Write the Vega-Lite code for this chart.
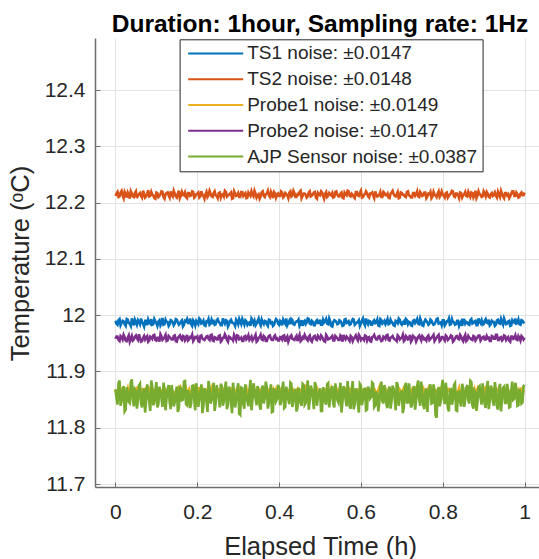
{
  "$schema": "https://vega.github.io/schema/vega-lite/v6.json",
  "autosize": "none",
  "width": 450,
  "height": 449,
  "padding": {"left": 95, "top": 38, "right": 0, "bottom": 72},
  "background": "white",
  "title": {"text": "Duration: 1hour, Sampling rate: 1Hz", "font": "Liberation Sans", "fontSize": 24.5, "fontWeight": "bold", "color": "#000000", "anchor": "middle", "offset": 1},
  "config": {
    "view": {"stroke": null},
    "axis": {"labelFont": "Liberation Sans", "titleFont": "Liberation Sans", "labelColor": "#262626", "titleColor": "#262626", "labelFontSize": 21, "titleFontSize": 25.5, "titleFontWeight": "normal", "gridColor": "#e3e3e3", "gridWidth": 1, "domainColor": "#6e6e6e", "domainWidth": 1.5, "tickColor": "#6e6e6e", "tickSize": -5, "tickWidth": 1}
  },
  "data": {"values": [
{"t":0,"a":11.990,"b":12.212,"c":11.868,"d":11.958,"e":11.868},
{"t":0.005,"a":11.983,"b":12.219,"c":11.858,"d":11.962,"e":11.841},
{"t":0.01,"a":11.993,"b":12.211,"c":11.866,"d":11.954,"e":11.884},
{"t":0.015,"a":11.986,"b":12.221,"c":11.856,"d":11.961,"e":11.847},
{"t":0.02,"a":11.989,"b":12.208,"c":11.869,"d":11.965,"e":11.874},
{"t":0.025,"a":11.981,"b":12.215,"c":11.861,"d":11.955,"e":11.832},
{"t":0.03,"a":11.992,"b":12.218,"c":11.871,"d":11.960,"e":11.862},
{"t":0.035,"a":11.985,"b":12.207,"c":11.863,"d":11.953,"e":11.844},
{"t":0.04,"a":11.994,"b":12.216,"c":11.867,"d":11.963,"e":11.886},
{"t":0.045,"a":11.982,"b":12.210,"c":11.859,"d":11.957,"e":11.838},
{"t":0.05,"a":11.988,"b":12.220,"c":11.870,"d":11.964,"e":11.865},
{"t":0.055,"a":11.991,"b":12.213,"c":11.862,"d":11.956,"e":11.851},
{"t":0.06,"a":11.984,"b":12.217,"c":11.857,"d":11.959,"e":11.878},
{"t":0.065,"a":11.987,"b":12.209,"c":11.868,"d":11.954,"e":11.836},
{"t":0.07,"a":11.980,"b":12.216,"c":11.865,"d":11.963,"e":11.870},
{"t":0.075,"a":11.990,"b":12.211,"c":11.859,"d":11.961,"e":11.848},
{"t":0.08,"a":11.992,"b":12.222,"c":11.872,"d":11.953,"e":11.859},
{"t":0.085,"a":11.985,"b":12.212,"c":11.861,"d":11.962,"e":11.830},
{"t":0.09,"a":11.983,"b":12.214,"c":11.866,"d":11.958,"e":11.872},
{"t":0.095,"a":11.993,"b":12.208,"c":11.858,"d":11.965,"e":11.845},
{"t":0.1,"a":11.986,"b":12.218,"c":11.869,"d":11.955,"e":11.881},
{"t":0.105,"a":11.989,"b":12.210,"c":11.863,"d":11.960,"e":11.842},
{"t":0.11,"a":11.982,"b":12.215,"c":11.867,"d":11.966,"e":11.863},
{"t":0.115,"a":11.995,"b":12.219,"c":11.857,"d":11.956,"e":11.837},
{"t":0.12,"a":11.984,"b":12.207,"c":11.870,"d":11.961,"e":11.867},
{"t":0.125,"a":11.988,"b":12.217,"c":11.860,"d":11.954,"e":11.853},
{"t":0.13,"a":11.981,"b":12.213,"c":11.864,"d":11.963,"e":11.876},
{"t":0.135,"a":11.991,"b":12.220,"c":11.873,"d":11.959,"e":11.833},
{"t":0.14,"a":11.987,"b":12.211,"c":11.862,"d":11.957,"e":11.861},
{"t":0.145,"a":11.985,"b":12.216,"c":11.859,"d":11.964,"e":11.846},
{"t":0.15,"a":11.992,"b":12.209,"c":11.867,"d":11.953,"e":11.873},
{"t":0.155,"a":11.983,"b":12.221,"c":11.858,"d":11.962,"e":11.835},
{"t":0.16,"a":11.989,"b":12.212,"c":11.871,"d":11.958,"e":11.869},
{"t":0.165,"a":11.980,"b":12.214,"c":11.862,"d":11.963,"e":11.850},
{"t":0.17,"a":11.990,"b":12.218,"c":11.865,"d":11.955,"e":11.883},
{"t":0.175,"a":11.993,"b":12.208,"c":11.856,"d":11.965,"e":11.840},
{"t":0.18,"a":11.986,"b":12.217,"c":11.868,"d":11.957,"e":11.858},
{"t":0.185,"a":11.984,"b":12.213,"c":11.861,"d":11.960,"e":11.843},
{"t":0.19,"a":11.991,"b":12.219,"c":11.870,"d":11.954,"e":11.875},
{"t":0.195,"a":11.982,"b":12.211,"c":11.864,"d":11.961,"e":11.831},
{"t":0.2,"a":11.987,"b":12.216,"c":11.860,"d":11.962,"e":11.864},
{"t":0.205,"a":11.994,"b":12.209,"c":11.872,"d":11.953,"e":11.852},
{"t":0.21,"a":11.985,"b":12.220,"c":11.863,"d":11.964,"e":11.877},
{"t":0.215,"a":11.990,"b":12.212,"c":11.866,"d":11.957,"e":11.839},
{"t":0.22,"a":11.981,"b":12.215,"c":11.858,"d":11.959,"e":11.866},
{"t":0.225,"a":11.988,"b":12.210,"c":11.869,"d":11.963,"e":11.828},
{"t":0.23,"a":11.983,"b":12.221,"c":11.861,"d":11.956,"e":11.871},
{"t":0.235,"a":11.992,"b":12.211,"c":11.871,"d":11.965,"e":11.849},
{"t":0.24,"a":11.989,"b":12.217,"c":11.859,"d":11.954,"e":11.880},
{"t":0.245,"a":11.984,"b":12.213,"c":11.865,"d":11.960,"e":11.844},
{"t":0.25,"a":11.993,"b":12.208,"c":11.867,"d":11.957,"e":11.860},
{"t":0.255,"a":11.986,"b":12.218,"c":11.857,"d":11.964,"e":11.836},
{"t":0.26,"a":11.982,"b":12.214,"c":11.870,"d":11.955,"e":11.874},
{"t":0.265,"a":11.989,"b":12.211,"c":11.862,"d":11.960,"e":11.847},
{"t":0.27,"a":11.991,"b":12.219,"c":11.868,"d":11.962,"e":11.882},
{"t":0.275,"a":11.980,"b":12.213,"c":11.859,"d":11.953,"e":11.841},
{"t":0.28,"a":11.990,"b":12.216,"c":11.864,"d":11.961,"e":11.867},
{"t":0.285,"a":11.987,"b":12.207,"c":11.872,"d":11.958,"e":11.826},
{"t":0.29,"a":11.985,"b":12.220,"c":11.860,"d":11.965,"e":11.862},
{"t":0.295,"a":11.992,"b":12.212,"c":11.866,"d":11.956,"e":11.848},
{"t":0.3,"a":11.984,"b":12.217,"c":11.858,"d":11.963,"e":11.879},
{"t":0.305,"a":11.988,"b":12.210,"c":11.869,"d":11.958,"e":11.823},
{"t":0.31,"a":11.993,"b":12.219,"c":11.865,"d":11.954,"e":11.870},
{"t":0.315,"a":11.983,"b":12.215,"c":11.861,"d":11.962,"e":11.834},
{"t":0.32,"a":11.989,"b":12.208,"c":11.871,"d":11.957,"e":11.858},
{"t":0.325,"a":11.986,"b":12.218,"c":11.863,"d":11.964,"e":11.838},
{"t":0.33,"a":11.981,"b":12.212,"c":11.859,"d":11.959,"e":11.885},
{"t":0.335,"a":11.991,"b":12.214,"c":11.868,"d":11.955,"e":11.850},
{"t":0.34,"a":11.990,"b":12.221,"c":11.866,"d":11.961,"e":11.868},
{"t":0.345,"a":11.985,"b":12.209,"c":11.857,"d":11.953,"e":11.840},
{"t":0.35,"a":11.994,"b":12.215,"c":11.870,"d":11.960,"e":11.863},
{"t":0.355,"a":11.982,"b":12.211,"c":11.861,"d":11.965,"e":11.832},
{"t":0.36,"a":11.987,"b":12.220,"c":11.873,"d":11.956,"e":11.875},
{"t":0.365,"a":11.990,"b":12.210,"c":11.860,"d":11.961,"e":11.853},
{"t":0.37,"a":11.984,"b":12.216,"c":11.864,"d":11.954,"e":11.871},
{"t":0.375,"a":11.992,"b":12.213,"c":11.858,"d":11.963,"e":11.843},
{"t":0.38,"a":11.986,"b":12.219,"c":11.867,"d":11.958,"e":11.877},
{"t":0.385,"a":11.981,"b":12.208,"c":11.869,"d":11.956,"e":11.829},
{"t":0.39,"a":11.989,"b":12.217,"c":11.862,"d":11.964,"e":11.865},
{"t":0.395,"a":11.991,"b":12.214,"c":11.860,"d":11.959,"e":11.851},
{"t":0.4,"a":11.983,"b":12.212,"c":11.871,"d":11.955,"e":11.872},
{"t":0.405,"a":11.988,"b":12.220,"c":11.863,"d":11.961,"e":11.846},
{"t":0.41,"a":11.992,"b":12.209,"c":11.866,"d":11.963,"e":11.882},
{"t":0.415,"a":11.985,"b":12.217,"c":11.859,"d":11.953,"e":11.837},
{"t":0.42,"a":11.982,"b":12.213,"c":11.868,"d":11.962,"e":11.860},
{"t":0.425,"a":11.990,"b":12.218,"c":11.856,"d":11.958,"e":11.842},
{"t":0.43,"a":11.993,"b":12.211,"c":11.870,"d":11.964,"e":11.878},
{"t":0.435,"a":11.984,"b":12.221,"c":11.864,"d":11.957,"e":11.848},
{"t":0.44,"a":11.987,"b":12.210,"c":11.861,"d":11.960,"e":11.869},
{"t":0.445,"a":11.989,"b":12.215,"c":11.869,"d":11.954,"e":11.835},
{"t":0.45,"a":11.981,"b":12.219,"c":11.862,"d":11.965,"e":11.859},
{"t":0.455,"a":11.991,"b":12.208,"c":11.868,"d":11.956,"e":11.839},
{"t":0.46,"a":11.988,"b":12.216,"c":11.858,"d":11.959,"e":11.876},
{"t":0.465,"a":11.984,"b":12.214,"c":11.872,"d":11.961,"e":11.844},
{"t":0.47,"a":11.994,"b":12.211,"c":11.863,"d":11.955,"e":11.884},
{"t":0.475,"a":11.985,"b":12.220,"c":11.867,"d":11.964,"e":11.849},
{"t":0.48,"a":11.990,"b":12.212,"c":11.859,"d":11.953,"e":11.866},
{"t":0.485,"a":11.982,"b":12.218,"c":11.866,"d":11.962,"e":11.833},
{"t":0.49,"a":11.989,"b":12.209,"c":11.870,"d":11.957,"e":11.873},
{"t":0.495,"a":11.986,"b":12.217,"c":11.860,"d":11.963,"e":11.854},
{"t":0.5,"a":11.992,"b":12.213,"c":11.865,"d":11.958,"e":11.870},
{"t":0.505,"a":11.983,"b":12.218,"c":11.857,"d":11.962,"e":11.830},
{"t":0.51,"a":11.987,"b":12.207,"c":11.869,"d":11.954,"e":11.864},
{"t":0.515,"a":11.993,"b":12.219,"c":11.861,"d":11.965,"e":11.841},
{"t":0.52,"a":11.984,"b":12.212,"c":11.871,"d":11.957,"e":11.879},
{"t":0.525,"a":11.989,"b":12.215,"c":11.862,"d":11.959,"e":11.852},
{"t":0.53,"a":11.980,"b":12.217,"c":11.864,"d":11.963,"e":11.874},
{"t":0.535,"a":11.991,"b":12.210,"c":11.859,"d":11.955,"e":11.836},
{"t":0.54,"a":11.988,"b":12.220,"c":11.868,"d":11.961,"e":11.862},
{"t":0.545,"a":11.985,"b":12.211,"c":11.867,"d":11.956,"e":11.845},
{"t":0.55,"a":11.990,"b":12.216,"c":11.858,"d":11.964,"e":11.880},
{"t":0.555,"a":11.981,"b":12.209,"c":11.866,"d":11.953,"e":11.847},
{"t":0.56,"a":11.992,"b":12.218,"c":11.872,"d":11.960,"e":11.868},
{"t":0.565,"a":11.986,"b":12.213,"c":11.860,"d":11.962,"e":11.838},
{"t":0.57,"a":11.989,"b":12.220,"c":11.865,"d":11.957,"e":11.861},
{"t":0.575,"a":11.984,"b":12.211,"c":11.861,"d":11.963,"e":11.834},
{"t":0.58,"a":11.993,"b":12.214,"c":11.870,"d":11.954,"e":11.883},
{"t":0.585,"a":11.983,"b":12.208,"c":11.857,"d":11.961,"e":11.842},
{"t":0.59,"a":11.987,"b":12.219,"c":11.867,"d":11.958,"e":11.865},
{"t":0.595,"a":11.991,"b":12.212,"c":11.864,"d":11.965,"e":11.827},
{"t":0.6,"a":11.985,"b":12.221,"c":11.869,"d":11.956,"e":11.875},
{"t":0.605,"a":11.994,"b":12.210,"c":11.862,"d":11.959,"e":11.850},
{"t":0.61,"a":11.982,"b":12.215,"c":11.859,"d":11.964,"e":11.871},
{"t":0.615,"a":11.988,"b":12.217,"c":11.871,"d":11.955,"e":11.832},
{"t":0.62,"a":11.990,"b":12.209,"c":11.863,"d":11.961,"e":11.867},
{"t":0.625,"a":11.983,"b":12.216,"c":11.868,"d":11.953,"e":11.855},
{"t":0.63,"a":11.989,"b":12.212,"c":11.858,"d":11.962,"e":11.878},
{"t":0.635,"a":11.986,"b":12.220,"c":11.866,"d":11.960,"e":11.840},
{"t":0.64,"a":11.992,"b":12.211,"c":11.861,"d":11.957,"e":11.859},
{"t":0.645,"a":11.981,"b":12.214,"c":11.872,"d":11.963,"e":11.844},
{"t":0.65,"a":11.991,"b":12.210,"c":11.860,"d":11.954,"e":11.882},
{"t":0.655,"a":11.987,"b":12.219,"c":11.865,"d":11.962,"e":11.843},
{"t":0.66,"a":11.984,"b":12.213,"c":11.870,"d":11.958,"e":11.863},
{"t":0.665,"a":11.993,"b":12.216,"c":11.862,"d":11.965,"e":11.835},
{"t":0.67,"a":11.985,"b":12.208,"c":11.867,"d":11.955,"e":11.873},
{"t":0.675,"a":11.988,"b":12.218,"c":11.857,"d":11.961,"e":11.848},
{"t":0.68,"a":11.982,"b":12.215,"c":11.869,"d":11.959,"e":11.869},
{"t":0.685,"a":11.990,"b":12.211,"c":11.863,"d":11.956,"e":11.831},
{"t":0.69,"a":11.986,"b":12.219,"c":11.864,"d":11.964,"e":11.876},
{"t":0.695,"a":11.992,"b":12.209,"c":11.868,"d":11.957,"e":11.852},
{"t":0.7,"a":11.983,"b":12.217,"c":11.859,"d":11.960,"e":11.866},
{"t":0.705,"a":11.989,"b":12.214,"c":11.871,"d":11.954,"e":11.837},
{"t":0.71,"a":11.993,"b":12.210,"c":11.861,"d":11.963,"e":11.880},
{"t":0.715,"a":11.984,"b":12.220,"c":11.866,"d":11.957,"e":11.845},
{"t":0.72,"a":11.987,"b":12.212,"c":11.858,"d":11.965,"e":11.858},
{"t":0.725,"a":11.981,"b":12.209,"c":11.868,"d":11.956,"e":11.841},
{"t":0.73,"a":11.991,"b":12.217,"c":11.865,"d":11.961,"e":11.874},
{"t":0.735,"a":11.989,"b":12.215,"c":11.860,"d":11.953,"e":11.849},
{"t":0.74,"a":11.985,"b":12.211,"c":11.872,"d":11.962,"e":11.884},
{"t":0.745,"a":11.994,"b":12.219,"c":11.862,"d":11.959,"e":11.839},
{"t":0.75,"a":11.982,"b":12.212,"c":11.867,"d":11.963,"e":11.862},
{"t":0.755,"a":11.988,"b":12.218,"c":11.859,"d":11.957,"e":11.833},
{"t":0.76,"a":11.990,"b":12.208,"c":11.864,"d":11.955,"e":11.870},
{"t":0.765,"a":11.983,"b":12.216,"c":11.870,"d":11.964,"e":11.853},
{"t":0.77,"a":11.992,"b":12.219,"c":11.861,"d":11.958,"e":11.877},
{"t":0.775,"a":11.986,"b":12.211,"c":11.869,"d":11.962,"e":11.844},
{"t":0.78,"a":11.984,"b":12.214,"c":11.856,"d":11.954,"e":11.865},
{"t":0.785,"a":11.993,"b":12.210,"c":11.866,"d":11.960,"e":11.818},
{"t":0.79,"a":11.985,"b":12.220,"c":11.863,"d":11.965,"e":11.872},
{"t":0.795,"a":11.987,"b":12.213,"c":11.871,"d":11.956,"e":11.847},
{"t":0.8,"a":11.991,"b":12.215,"c":11.860,"d":11.961,"e":11.885},
{"t":0.805,"a":11.982,"b":12.209,"c":11.867,"d":11.955,"e":11.842},
{"t":0.81,"a":11.989,"b":12.218,"c":11.862,"d":11.962,"e":11.860},
{"t":0.815,"a":11.994,"b":12.212,"c":11.869,"d":11.958,"e":11.829},
{"t":0.82,"a":11.984,"b":12.217,"c":11.858,"d":11.964,"e":11.868},
{"t":0.825,"a":11.988,"b":12.220,"c":11.865,"d":11.953,"e":11.850},
{"t":0.83,"a":11.983,"b":12.210,"c":11.868,"d":11.959,"e":11.879},
{"t":0.835,"a":11.990,"b":12.216,"c":11.861,"d":11.963,"e":11.830},
{"t":0.84,"a":11.981,"b":12.208,"c":11.871,"d":11.957,"e":11.864},
{"t":0.845,"a":11.989,"b":12.217,"c":11.859,"d":11.962,"e":11.838},
{"t":0.85,"a":11.992,"b":12.213,"c":11.866,"d":11.954,"e":11.871},
{"t":0.855,"a":11.985,"b":12.219,"c":11.863,"d":11.965,"e":11.851},
{"t":0.86,"a":11.987,"b":12.211,"c":11.870,"d":11.956,"e":11.876},
{"t":0.865,"a":11.983,"b":12.214,"c":11.857,"d":11.960,"e":11.843},
{"t":0.87,"a":11.993,"b":12.218,"c":11.867,"d":11.957,"e":11.881},
{"t":0.875,"a":11.986,"b":12.209,"c":11.864,"d":11.963,"e":11.834},
{"t":0.88,"a":11.990,"b":12.221,"c":11.860,"d":11.955,"e":11.863},
{"t":0.885,"a":11.982,"b":12.212,"c":11.869,"d":11.961,"e":11.846},
{"t":0.89,"a":11.989,"b":12.215,"c":11.862,"d":11.964,"e":11.874},
{"t":0.895,"a":11.991,"b":12.210,"c":11.868,"d":11.958,"e":11.841},
{"t":0.9,"a":11.984,"b":12.220,"c":11.858,"d":11.962,"e":11.859},
{"t":0.905,"a":11.993,"b":12.211,"c":11.872,"d":11.957,"e":11.835},
{"t":0.91,"a":11.986,"b":12.216,"c":11.861,"d":11.959,"e":11.883},
{"t":0.915,"a":11.982,"b":12.209,"c":11.865,"d":11.954,"e":11.848},
{"t":0.92,"a":11.990,"b":12.217,"c":11.859,"d":11.963,"e":11.869},
{"t":0.925,"a":11.988,"b":12.214,"c":11.870,"d":11.958,"e":11.839},
{"t":0.93,"a":11.983,"b":12.212,"c":11.863,"d":11.965,"e":11.867},
{"t":0.935,"a":11.992,"b":12.219,"c":11.867,"d":11.956,"e":11.832},
{"t":0.94,"a":11.985,"b":12.210,"c":11.857,"d":11.960,"e":11.878},
{"t":0.945,"a":11.987,"b":12.216,"c":11.866,"d":11.955,"e":11.850},
{"t":0.95,"a":11.994,"b":12.208,"c":11.869,"d":11.964,"e":11.873},
{"t":0.955,"a":11.984,"b":12.217,"c":11.860,"d":11.956,"e":11.844},
{"t":0.96,"a":11.989,"b":12.215,"c":11.866,"d":11.961,"e":11.865},
{"t":0.965,"a":11.981,"b":12.211,"c":11.862,"d":11.953,"e":11.837},
{"t":0.97,"a":11.991,"b":12.220,"c":11.871,"d":11.962,"e":11.882},
{"t":0.975,"a":11.987,"b":12.212,"c":11.858,"d":11.959,"e":11.852},
{"t":0.98,"a":11.985,"b":12.218,"c":11.864,"d":11.957,"e":11.870},
{"t":0.985,"a":11.992,"b":12.209,"c":11.868,"d":11.963,"e":11.840},
{"t":0.99,"a":11.983,"b":12.216,"c":11.861,"d":11.955,"e":11.861},
{"t":0.995,"a":11.990,"b":12.213,"c":11.870,"d":11.961,"e":11.845},
{"t":1,"a":11.986,"b":12.218,"c":11.863,"d":11.960,"e":11.876},
{"t":0.0025,"a":11.985,"b":12.216,"c":11.861,"d":11.962,"e":11.853},
{"t":0.0075,"a":11.991,"b":12.210,"c":11.867,"d":11.956,"e":11.879},
{"t":0.0125,"a":11.982,"b":12.218,"c":11.860,"d":11.963,"e":11.839},
{"t":0.0175,"a":11.990,"b":12.213,"c":11.870,"d":11.957,"e":11.866},
{"t":0.0225,"a":11.984,"b":12.219,"c":11.858,"d":11.961,"e":11.829},
{"t":0.0275,"a":11.993,"b":12.209,"c":11.866,"d":11.954,"e":11.872},
{"t":0.0325,"a":11.986,"b":12.214,"c":11.862,"d":11.964,"e":11.846},
{"t":0.0375,"a":11.981,"b":12.220,"c":11.869,"d":11.958,"e":11.881},
{"t":0.0425,"a":11.989,"b":12.211,"c":11.857,"d":11.955,"e":11.850},
{"t":0.0475,"a":11.992,"b":12.217,"c":11.865,"d":11.962,"e":11.868},
{"t":0.0525,"a":11.983,"b":12.208,"c":11.871,"d":11.959,"e":11.834},
{"t":0.0575,"a":11.988,"b":12.215,"c":11.859,"d":11.966,"e":11.875},
{"t":0.0625,"a":11.994,"b":12.212,"c":11.866,"d":11.953,"e":11.843},
{"t":0.0675,"a":11.985,"b":12.221,"c":11.863,"d":11.960,"e":11.862},
{"t":0.0725,"a":11.990,"b":12.209,"c":11.868,"d":11.957,"e":11.827},
{"t":0.0775,"a":11.982,"b":12.216,"c":11.860,"d":11.963,"e":11.877},
{"t":0.0825,"a":11.987,"b":12.211,"c":11.870,"d":11.955,"e":11.848},
{"t":0.0875,"a":11.993,"b":12.219,"c":11.856,"d":11.961,"e":11.884},
{"t":0.0925,"a":11.984,"b":12.213,"c":11.867,"d":11.964,"e":11.840},
{"t":0.0975,"a":11.989,"b":12.207,"c":11.862,"d":11.956,"e":11.866},
{"t":0.1025,"a":11.981,"b":12.217,"c":11.869,"d":11.960,"e":11.836},
{"t":0.1075,"a":11.991,"b":12.212,"c":11.858,"d":11.953,"e":11.873},
{"t":0.1125,"a":11.986,"b":12.220,"c":11.865,"d":11.962,"e":11.852},
{"t":0.1175,"a":11.983,"b":12.210,"c":11.871,"d":11.958,"e":11.880},
{"t":0.1225,"a":11.992,"b":12.215,"c":11.861,"d":11.965,"e":11.831},
{"t":0.1275,"a":11.988,"b":12.218,"c":11.866,"d":11.955,"e":11.869},
{"t":0.1325,"a":11.984,"b":12.209,"c":11.859,"d":11.961,"e":11.845},
{"t":0.1375,"a":11.990,"b":12.214,"c":11.868,"d":11.957,"e":11.876},
{"t":0.1425,"a":11.982,"b":12.221,"c":11.863,"d":11.963,"e":11.838},
{"t":0.1475,"a":11.993,"b":12.211,"c":11.857,"d":11.954,"e":11.863},
{"t":0.1525,"a":11.987,"b":12.216,"c":11.870,"d":11.960,"e":11.828},
{"t":0.1575,"a":11.985,"b":12.208,"c":11.862,"d":11.964,"e":11.871},
{"t":0.1625,"a":11.991,"b":12.219,"c":11.867,"d":11.956,"e":11.849},
{"t":0.1675,"a":11.983,"b":12.213,"c":11.860,"d":11.962,"e":11.882},
{"t":0.1725,"a":11.989,"b":12.210,"c":11.869,"d":11.958,"e":11.842},
{"t":0.1775,"a":11.986,"b":12.217,"c":11.864,"d":11.955,"e":11.867},
{"t":0.1825,"a":11.994,"b":12.212,"c":11.858,"d":11.961,"e":11.835},
{"t":0.1875,"a":11.981,"b":12.220,"c":11.866,"d":11.965,"e":11.874},
{"t":0.1925,"a":11.988,"b":12.209,"c":11.872,"d":11.957,"e":11.851},
{"t":0.1975,"a":11.990,"b":12.215,"c":11.861,"d":11.960,"e":11.879},
{"t":0.2025,"a":11.984,"b":12.218,"c":11.865,"d":11.954,"e":11.837},
{"t":0.2075,"a":11.992,"b":12.211,"c":11.859,"d":11.963,"e":11.864},
{"t":0.2125,"a":11.986,"b":12.214,"c":11.870,"d":11.959,"e":11.826},
{"t":0.2175,"a":11.982,"b":12.207,"c":11.863,"d":11.956,"e":11.870},
{"t":0.2225,"a":11.989,"b":12.219,"c":11.867,"d":11.962,"e":11.847},
{"t":0.2275,"a":11.993,"b":12.213,"c":11.857,"d":11.958,"e":11.883},
{"t":0.2325,"a":11.985,"b":12.216,"c":11.866,"d":11.964,"e":11.843},
{"t":0.2375,"a":11.987,"b":12.210,"c":11.862,"d":11.955,"e":11.861},
{"t":0.2425,"a":11.983,"b":12.220,"c":11.869,"d":11.961,"e":11.830},
{"t":0.2475,"a":11.991,"b":12.212,"c":11.860,"d":11.957,"e":11.876},
{"t":0.2525,"a":11.988,"b":12.217,"c":11.868,"d":11.963,"e":11.854},
{"t":0.2575,"a":11.982,"b":12.209,"c":11.864,"d":11.953,"e":11.878},
{"t":0.2625,"a":11.994,"b":12.215,"c":11.858,"d":11.960,"e":11.839},
{"t":0.2675,"a":11.985,"b":12.221,"c":11.871,"d":11.966,"e":11.868},
{"t":0.2725,"a":11.990,"b":12.211,"c":11.862,"d":11.956,"e":11.833},
{"t":0.2775,"a":11.984,"b":12.214,"c":11.866,"d":11.962,"e":11.873},
{"t":0.2825,"a":11.992,"b":12.218,"c":11.859,"d":11.958,"e":11.845},
{"t":0.2875,"a":11.986,"b":12.208,"c":11.867,"d":11.955,"e":11.880},
{"t":0.2925,"a":11.981,"b":12.216,"c":11.863,"d":11.961,"e":11.836},
{"t":0.2975,"a":11.989,"b":12.213,"c":11.870,"d":11.964,"e":11.865},
{"t":0.3025,"a":11.993,"b":12.210,"c":11.857,"d":11.957,"e":11.825},
{"t":0.3075,"a":11.984,"b":12.219,"c":11.865,"d":11.960,"e":11.871},
{"t":0.3125,"a":11.988,"b":12.212,"c":11.861,"d":11.954,"e":11.842},
{"t":0.3175,"a":11.991,"b":12.217,"c":11.868,"d":11.963,"e":11.877},
{"t":0.3225,"a":11.983,"b":12.209,"c":11.860,"d":11.959,"e":11.848},
{"t":0.3275,"a":11.987,"b":12.215,"c":11.869,"d":11.956,"e":11.866},
{"t":0.3325,"a":11.994,"b":12.220,"c":11.863,"d":11.962,"e":11.831},
{"t":0.3375,"a":11.985,"b":12.211,"c":11.866,"d":11.958,"e":11.879},
{"t":0.3425,"a":11.982,"b":12.216,"c":11.858,"d":11.965,"e":11.852},
{"t":0.3475,"a":11.990,"b":12.213,"c":11.871,"d":11.955,"e":11.874},
{"t":0.3525,"a":11.986,"b":12.207,"c":11.862,"d":11.961,"e":11.838},
{"t":0.3575,"a":11.992,"b":12.218,"c":11.867,"d":11.957,"e":11.869},
{"t":0.3625,"a":11.984,"b":12.212,"c":11.859,"d":11.963,"e":11.843},
{"t":0.3675,"a":11.989,"b":12.215,"c":11.865,"d":11.954,"e":11.882},
{"t":0.3725,"a":11.981,"b":12.221,"c":11.870,"d":11.960,"e":11.834},
{"t":0.3775,"a":11.991,"b":12.210,"c":11.861,"d":11.964,"e":11.862},
{"t":0.3825,"a":11.987,"b":12.214,"c":11.866,"d":11.956,"e":11.828},
{"t":0.3875,"a":11.983,"b":12.219,"c":11.857,"d":11.962,"e":11.870},
{"t":0.3925,"a":11.993,"b":12.209,"c":11.868,"d":11.958,"e":11.847},
{"t":0.3975,"a":11.985,"b":12.216,"c":11.863,"d":11.955,"e":11.876},
{"t":0.4025,"a":11.990,"b":12.212,"c":11.860,"d":11.961,"e":11.840},
{"t":0.4075,"a":11.982,"b":12.218,"c":11.869,"d":11.957,"e":11.867},
{"t":0.4125,"a":11.988,"b":12.211,"c":11.864,"d":11.964,"e":11.835},
{"t":0.4175,"a":11.994,"b":12.215,"c":11.858,"d":11.959,"e":11.873},
{"t":0.4225,"a":11.986,"b":12.208,"c":11.867,"d":11.953,"e":11.850},
{"t":0.4275,"a":11.984,"b":12.220,"c":11.862,"d":11.962,"e":11.880},
{"t":0.4325,"a":11.991,"b":12.213,"c":11.870,"d":11.958,"e":11.837},
{"t":0.4375,"a":11.983,"b":12.217,"c":11.859,"d":11.956,"e":11.864},
{"t":0.4425,"a":11.989,"b":12.210,"c":11.866,"d":11.963,"e":11.829},
{"t":0.4475,"a":11.992,"b":12.214,"c":11.861,"d":11.960,"e":11.871},
{"t":0.4525,"a":11.985,"b":12.221,"c":11.868,"d":11.954,"e":11.844},
{"t":0.4575,"a":11.981,"b":12.212,"c":11.863,"d":11.961,"e":11.878},
{"t":0.4625,"a":11.990,"b":12.216,"c":11.857,"d":11.965,"e":11.841},
{"t":0.4675,"a":11.987,"b":12.209,"c":11.869,"d":11.957,"e":11.866},
{"t":0.4725,"a":11.993,"b":12.218,"c":11.864,"d":11.962,"e":11.832},
{"t":0.4775,"a":11.984,"b":12.211,"c":11.860,"d":11.955,"e":11.875},
{"t":0.4825,"a":11.988,"b":12.215,"c":11.867,"d":11.959,"e":11.853},
{"t":0.4875,"a":11.982,"b":12.219,"c":11.862,"d":11.963,"e":11.881},
{"t":0.4925,"a":11.991,"b":12.207,"c":11.871,"d":11.956,"e":11.839},
{"t":0.4975,"a":11.986,"b":12.214,"c":11.858,"d":11.960,"e":11.863},
{"t":0.5025,"a":11.983,"b":12.220,"c":11.865,"d":11.964,"e":11.830},
{"t":0.5075,"a":11.992,"b":12.212,"c":11.861,"d":11.957,"e":11.872},
{"t":0.5125,"a":11.989,"b":12.216,"c":11.868,"d":11.953,"e":11.846},
{"t":0.5175,"a":11.985,"b":12.210,"c":11.863,"d":11.962,"e":11.877},
{"t":0.5225,"a":11.994,"b":12.217,"c":11.859,"d":11.958,"e":11.836},
{"t":0.5275,"a":11.981,"b":12.213,"c":11.870,"d":11.961,"e":11.868},
{"t":0.5325,"a":11.988,"b":12.209,"c":11.862,"d":11.955,"e":11.842},
{"t":0.5375,"a":11.990,"b":12.219,"c":11.866,"d":11.963,"e":11.879},
{"t":0.5425,"a":11.984,"b":12.214,"c":11.857,"d":11.959,"e":11.849},
{"t":0.5475,"a":11.991,"b":12.211,"c":11.869,"d":11.956,"e":11.865},
{"t":0.5525,"a":11.986,"b":12.218,"c":11.864,"d":11.962,"e":11.827},
{"t":0.5575,"a":11.982,"b":12.208,"c":11.860,"d":11.965,"e":11.874},
{"t":0.5625,"a":11.993,"b":12.215,"c":11.867,"d":11.957,"e":11.851},
{"t":0.5675,"a":11.987,"b":12.221,"c":11.862,"d":11.960,"e":11.883},
{"t":0.5725,"a":11.983,"b":12.212,"c":11.871,"d":11.954,"e":11.838},
{"t":0.5775,"a":11.989,"b":12.216,"c":11.858,"d":11.961,"e":11.867},
{"t":0.5825,"a":11.992,"b":12.210,"c":11.865,"d":11.958,"e":11.833},
{"t":0.5875,"a":11.985,"b":12.219,"c":11.861,"d":11.964,"e":11.870},
{"t":0.5925,"a":11.988,"b":12.213,"c":11.868,"d":11.955,"e":11.844},
{"t":0.5975,"a":11.981,"b":12.217,"c":11.863,"d":11.962,"e":11.878},
{"t":0.6025,"a":11.990,"b":12.209,"c":11.859,"d":11.959,"e":11.840},
{"t":0.6075,"a":11.986,"b":12.214,"c":11.870,"d":11.956,"e":11.866},
{"t":0.6125,"a":11.994,"b":12.220,"c":11.864,"d":11.963,"e":11.831},
{"t":0.6175,"a":11.984,"b":12.211,"c":11.857,"d":11.960,"e":11.873},
{"t":0.6225,"a":11.989,"b":12.216,"c":11.866,"d":11.954,"e":11.852},
{"t":0.6275,"a":11.983,"b":12.218,"c":11.862,"d":11.961,"e":11.880},
{"t":0.6325,"a":11.991,"b":12.208,"c":11.869,"d":11.965,"e":11.837},
{"t":0.6375,"a":11.987,"b":12.215,"c":11.860,"d":11.957,"e":11.864},
{"t":0.6425,"a":11.982,"b":12.212,"c":11.867,"d":11.962,"e":11.829},
{"t":0.6475,"a":11.993,"b":12.219,"c":11.863,"d":11.958,"e":11.871},
{"t":0.6525,"a":11.985,"b":12.210,"c":11.858,"d":11.955,"e":11.847},
{"t":0.6575,"a":11.990,"b":12.217,"c":11.871,"d":11.961,"e":11.876},
{"t":0.6625,"a":11.988,"b":12.213,"c":11.865,"d":11.964,"e":11.841},
{"t":0.6675,"a":11.984,"b":12.209,"c":11.861,"d":11.956,"e":11.868},
{"t":0.6725,"a":11.992,"b":12.216,"c":11.868,"d":11.960,"e":11.834},
{"t":0.6775,"a":11.986,"b":12.221,"c":11.862,"d":11.963,"e":11.875},
{"t":0.6825,"a":11.981,"b":12.212,"c":11.857,"d":11.957,"e":11.853},
{"t":0.6875,"a":11.989,"b":12.215,"c":11.866,"d":11.954,"e":11.881},
{"t":0.6925,"a":11.994,"b":12.208,"c":11.870,"d":11.962,"e":11.839},
{"t":0.6975,"a":11.985,"b":12.218,"c":11.860,"d":11.959,"e":11.862},
{"t":0.7025,"a":11.987,"b":12.214,"c":11.867,"d":11.965,"e":11.826},
{"t":0.7075,"a":11.983,"b":12.211,"c":11.863,"d":11.956,"e":11.872},
{"t":0.7125,"a":11.991,"b":12.219,"c":11.859,"d":11.961,"e":11.845},
{"t":0.7175,"a":11.988,"b":12.213,"c":11.869,"d":11.958,"e":11.879},
{"t":0.7225,"a":11.982,"b":12.209,"c":11.864,"d":11.953,"e":11.836},
{"t":0.7275,"a":11.990,"b":12.217,"c":11.861,"d":11.963,"e":11.867},
{"t":0.7325,"a":11.986,"b":12.212,"c":11.868,"d":11.960,"e":11.832},
{"t":0.7375,"a":11.993,"b":12.220,"c":11.858,"d":11.957,"e":11.874},
{"t":0.7425,"a":11.984,"b":12.210,"c":11.866,"d":11.964,"e":11.850},
{"t":0.7475,"a":11.989,"b":12.216,"c":11.862,"d":11.955,"e":11.882},
{"t":0.7525,"a":11.981,"b":12.213,"c":11.870,"d":11.961,"e":11.840},
{"t":0.7575,"a":11.992,"b":12.218,"c":11.857,"d":11.958,"e":11.865},
{"t":0.7625,"a":11.987,"b":12.211,"c":11.865,"d":11.962,"e":11.828},
{"t":0.7675,"a":11.985,"b":12.215,"c":11.863,"d":11.956,"e":11.869},
{"t":0.7725,"a":11.990,"b":12.208,"c":11.868,"d":11.960,"e":11.843},
{"t":0.7775,"a":11.983,"b":12.219,"c":11.860,"d":11.965,"e":11.877},
{"t":0.7825,"a":11.988,"b":12.213,"c":11.867,"d":11.957,"e":11.822},
{"t":0.7875,"a":11.994,"b":12.216,"c":11.862,"d":11.963,"e":11.866},
{"t":0.7925,"a":11.986,"b":12.210,"c":11.871,"d":11.954,"e":11.838},
{"t":0.7975,"a":11.982,"b":12.220,"c":11.859,"d":11.961,"e":11.873},
{"t":0.8025,"a":11.991,"b":12.212,"c":11.866,"d":11.958,"e":11.851},
{"t":0.8075,"a":11.985,"b":12.217,"c":11.861,"d":11.964,"e":11.880},
{"t":0.8125,"a":11.989,"b":12.209,"c":11.869,"d":11.956,"e":11.835},
{"t":0.8175,"a":11.983,"b":12.214,"c":11.864,"d":11.960,"e":11.867},
{"t":0.8225,"a":11.993,"b":12.221,"c":11.857,"d":11.963,"e":11.841},
{"t":0.8275,"a":11.987,"b":12.211,"c":11.868,"d":11.955,"e":11.876},
{"t":0.8325,"a":11.984,"b":12.216,"c":11.862,"d":11.962,"e":11.831},
{"t":0.8375,"a":11.990,"b":12.213,"c":11.866,"d":11.958,"e":11.863},
{"t":0.8425,"a":11.986,"b":12.218,"c":11.860,"d":11.965,"e":11.846},
{"t":0.8475,"a":11.981,"b":12.209,"c":11.870,"d":11.957,"e":11.878},
{"t":0.8525,"a":11.992,"b":12.215,"c":11.863,"d":11.961,"e":11.837},
{"t":0.8575,"a":11.988,"b":12.212,"c":11.867,"d":11.954,"e":11.870},
{"t":0.8625,"a":11.984,"b":12.219,"c":11.858,"d":11.963,"e":11.849},
{"t":0.8675,"a":11.991,"b":12.210,"c":11.865,"d":11.959,"e":11.883},
{"t":0.8725,"a":11.985,"b":12.217,"c":11.861,"d":11.956,"e":11.840},
{"t":0.8775,"a":11.989,"b":12.213,"c":11.869,"d":11.962,"e":11.866},
{"t":0.8825,"a":11.982,"b":12.208,"c":11.864,"d":11.958,"e":11.830},
{"t":0.8875,"a":11.994,"b":12.220,"c":11.859,"d":11.964,"e":11.872},
{"t":0.8925,"a":11.986,"b":12.214,"c":11.867,"d":11.955,"e":11.853},
{"t":0.8975,"a":11.983,"b":12.211,"c":11.862,"d":11.961,"e":11.879},
{"t":0.9025,"a":11.990,"b":12.216,"c":11.870,"d":11.957,"e":11.842},
{"t":0.9075,"a":11.987,"b":12.219,"c":11.858,"d":11.963,"e":11.868},
{"t":0.9125,"a":11.992,"b":12.210,"c":11.865,"d":11.960,"e":11.833},
{"t":0.9175,"a":11.984,"b":12.215,"c":11.863,"d":11.954,"e":11.875},
{"t":0.9225,"a":11.988,"b":12.212,"c":11.868,"d":11.962,"e":11.847},
{"t":0.9275,"a":11.981,"b":12.218,"c":11.860,"d":11.958,"e":11.881},
{"t":0.9325,"a":11.991,"b":12.209,"c":11.866,"d":11.965,"e":11.838},
{"t":0.9375,"a":11.986,"b":12.214,"c":11.871,"d":11.956,"e":11.864},
{"t":0.9425,"a":11.993,"b":12.221,"c":11.861,"d":11.961,"e":11.829},
{"t":0.9475,"a":11.983,"b":12.211,"c":11.867,"d":11.957,"e":11.871},
{"t":0.9525,"a":11.989,"b":12.217,"c":11.859,"d":11.963,"e":11.844},
{"t":0.9575,"a":11.985,"b":12.213,"c":11.869,"d":11.959,"e":11.878},
{"t":0.9625,"a":11.990,"b":12.208,"c":11.864,"d":11.955,"e":11.836},
{"t":0.9675,"a":11.982,"b":12.216,"c":11.860,"d":11.962,"e":11.867},
{"t":0.9725,"a":11.988,"b":12.220,"c":11.868,"d":11.958,"e":11.850},
{"t":0.9775,"a":11.994,"b":12.212,"c":11.862,"d":11.964,"e":11.880},
{"t":0.9825,"a":11.986,"b":12.215,"c":11.866,"d":11.956,"e":11.839},
{"t":0.9875,"a":11.984,"b":12.210,"c":11.857,"d":11.960,"e":11.869},
{"t":0.9925,"a":11.991,"b":12.218,"c":11.870,"d":11.963,"e":11.843},
{"t":0.9975,"a":11.987,"b":12.213,"c":11.863,"d":11.957,"e":11.874}
  ]},
  "transform": [{"fold": ["a", "b", "c", "d", "e"], "as": ["s", "v"]}],
  "mark": {"type": "line", "strokeWidth": 2.6, "clip": true},
  "encoding": {
    "x": {"field": "t", "type": "quantitative", "scale": {"domain": [-0.05, 1.05], "nice": false, "zero": false},
      "axis": {"title": "Elapsed Time (h)", "values": [0, 0.2, 0.4, 0.6, 0.8, 1], "format": "~g", "labelPadding": 19, "titleX": 225, "titleY": 67, "titleBaseline": "alphabetic", "titleAnchor": "middle", "titleAlign": "center"}},
    "y": {"field": "v", "type": "quantitative", "scale": {"domain": [11.6947, 12.4925], "nice": false, "zero": false},
      "axis": {"title": "Temperature (ᵒC)", "values": [11.7, 11.8, 11.9, 12, 12.1, 12.2, 12.3, 12.4], "format": "~g", "labelPadding": 15, "titleX": -67, "titleY": 225, "titleAngle": -90, "titleBaseline": "alphabetic", "titleAlign": "center", "titleAnchor": "middle"}},
    "color": {"field": "s", "type": "nominal",
      "scale": {"domain": ["a", "b", "c", "d", "e"], "range": ["#0072BD", "#D95319", "#EDB120", "#7E2F8E", "#77AC30"]},
      "legend": {"title": null, "orient": "none", "legendX": 84.6, "legendY": 1.3, "direction": "vertical",
        "labelExpr": "({'a':'TS1 noise: ±0.0147','b':'TS2 noise: ±0.0148','c':'Probe1 noise: ±0.0149','d':'Probe2 noise: ±0.0147','e':'AJP Sensor noise: ±0.0387'})[datum.label]",
        "symbolType": "M-5,0H5", "symbolSize": 121, "symbolStrokeWidth": 2, "symbolOffset": 22, "labelOffset": 22,
        "labelFont": "Liberation Sans", "labelFontSize": 19, "labelColor": "#262626", "labelLimit": 400,
        "strokeColor": "#262626", "fillColor": "white", "padding": 4.6, "rowPadding": 5.8, "cornerRadius": 0}
    }
  }
}
